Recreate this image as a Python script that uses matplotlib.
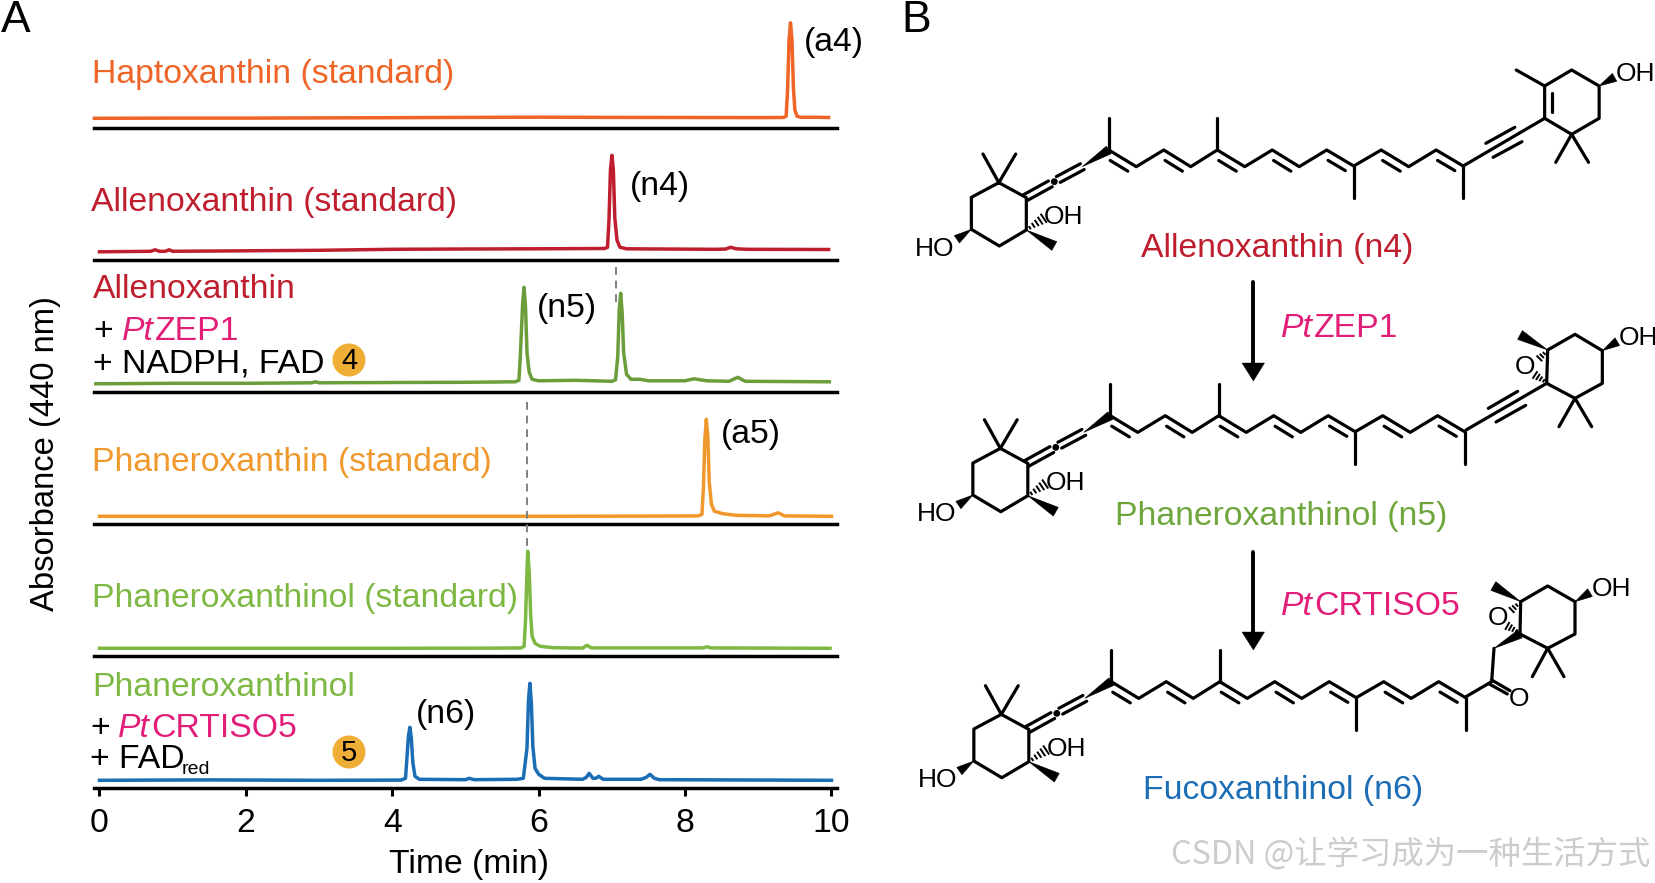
import matplotlib
matplotlib.use("Agg")
import matplotlib.pyplot as plt
from matplotlib.patches import Polygon, Circle

plt.rcParams['font.family'] = ['Liberation Sans', 'DejaVu Sans']

W, H = 1656, 883
# ---------- chromatogram data (time in min, signal in arbitrary units) ----------
t_a4 = [-0.07, 1, 2, 3, 4, 5, 6, 7, 8, 9, 9.34, 9.38, 9.40, 9.42, 9.44, 9.46, 9.48, 9.50, 9.53, 9.58, 9.80, 9.96]
y_a4 = [10.0, 10.2, 10.2, 10.4, 10.6, 10.9, 11.1, 10.9, 10.8, 10.7, 10.8, 12, 38, 88, 105.5, 88, 40, 18, 12, 11, 11, 10.8]
t_n4 = [0.0, 0.7, 0.76, 0.82, 0.9, 0.95, 1.0, 2, 3, 4, 5, 6, 6.90, 6.94, 6.96, 6.98, 7.0, 7.02, 7.04, 7.07, 7.11, 7.2, 8.4, 8.55, 8.62, 8.7, 8.85, 9.96]
y_n4 = [8.5, 9, 10.5, 9, 9, 10.5, 9, 9.5, 10, 11, 11.3, 11.5, 11.8, 13, 40, 90, 105, 90, 42, 20, 13, 11.5, 11, 11.2, 13, 11.5, 11, 10.8]
t_n5 = [-0.05, 1, 2, 2.9, 2.95, 3.0, 4, 5, 5.68, 5.73, 5.75, 5.78, 5.80, 5.82, 5.84, 5.87, 5.91, 6.0, 6.5, 7.0, 7.05, 7.08, 7.10, 7.12, 7.14, 7.16, 7.20, 7.26, 7.38, 7.50, 8.0, 8.12, 8.3, 8.6, 8.72, 8.82, 9.97]
y_n5 = [8.5, 9, 9, 9.5, 10.5, 9.5, 9.8, 10, 10.5, 12, 38, 88, 105, 85, 40, 20, 13, 11.5, 12, 11, 12.5, 36, 82, 99, 80, 40, 18, 13, 13, 11.5, 11.5, 13.5, 11.5, 11, 15, 11, 10.5]
t_a5 = [0.0, 2, 4, 6, 7.5, 8.18, 8.23, 8.25, 8.27, 8.29, 8.31, 8.33, 8.36, 8.40, 8.45, 8.52, 8.7, 9.15, 9.27, 9.36, 10.0]
y_a5 = [8, 8, 8, 8, 8.2, 8.4, 10, 36, 85, 105, 88, 42, 20, 13, 12, 10.5, 9, 8.4, 11.5, 8.4, 8]
t_n5s = [0.0, 2, 4, 5.5, 5.76, 5.80, 5.82, 5.84, 5.85, 5.87, 5.89, 5.91, 5.95, 6.02, 6.2, 6.6, 6.66, 6.72, 7.5, 8.25, 8.3, 8.35, 9.98]
y_n5s = [8, 8, 8, 8.2, 8.4, 10, 36, 85, 105, 85, 42, 20, 13, 10, 8.6, 8.2, 11, 8.4, 8.4, 8.4, 9.6, 8.4, 8]
t_n6 = [0.0, 1.5, 3, 4.12, 4.18, 4.20, 4.22, 4.24, 4.26, 4.28, 4.31, 4.37, 5.0, 5.05, 5.12, 5.7, 5.79, 5.84, 5.86, 5.88, 5.90, 5.92, 5.95, 6.0, 6.08, 6.6, 6.65, 6.69, 6.74, 6.78, 6.82, 6.88, 7.4, 7.47, 7.52, 7.58, 7.65, 8.5, 10.0]
y_n6 = [8, 8.4, 8, 8.2, 10, 30, 52, 61, 50, 26, 12, 9, 8.6, 10, 8.6, 9, 10, 40, 88, 105, 85, 42, 20, 14, 10, 9, 11, 15, 10, 10, 12, 9, 9, 11, 14, 10, 8.6, 8.4, 8]

traces = [(t_a4, y_a4, '#EE6527'), (t_n4, y_n4, '#BE1E2D'), (t_n5, y_n5, '#6B9E3A'),
          (t_a5, y_a5, '#F0982B'), (t_n5s, y_n5s, '#7DB843'), (t_n6, y_n6, '#1B6DB5')]
xticks = [0, 2, 4, 6, 8, 10]
tick_labels = ['0', '2', '4', '6', '8', '10']

ORANGE, RED, GREEN, AMBER, LIME, BLUE = '#EE6527', '#BE1E2D', '#6FA63C', '#F0982B', '#7DB843', '#1B6DB5'
MAG, BADGE = '#E21F78', '#EFAE35'
FS = 24.3

fig = plt.figure(figsize=(W / 100, H / 100), dpi=100, facecolor='white')

X0, PXMIN = 99.5, 73.2
TMIN, TMAX = -0.08, 10.07
bottoms = [128.3, 260.3, 392.3, 524.3, 656.3, 788.3]
for i, (b, (tt, yy, c)) in enumerate(zip(bottoms, traces)):
    left = X0 + TMIN * PXMIN
    width = (TMAX - TMIN) * PXMIN
    ax = fig.add_axes([left / W, (H - b) / H, width / W, 132 / H])
    ax.patch.set_alpha(0)
    ax.set_xlim(TMIN, TMAX)
    ax.set_ylim(0, 132)
    ax.plot(tt, yy, color=c, lw=2.5, solid_joinstyle='round', clip_on=False)
    for s in ('top', 'left', 'right'):
        ax.spines[s].set_visible(False)
    ax.spines['bottom'].set_linewidth(2.5)
    ax.set_yticks([])
    if i == 5:
        ax.set_xticks(xticks)
        ax.set_xticklabels(tick_labels, fontsize=FS)
        ax.tick_params(axis='x', length=6, width=2.2, pad=8)
        ax.set_xlabel('Time (min)', fontsize=FS)
        ax.xaxis.set_label_coords((469 - left) / width, -(849 - b) / 132)
    else:
        ax.set_xticks([])

# ---------- overlay in pixel coordinates ----------
ov = fig.add_axes([0, 0, 1, 1])
ov.set_xlim(0, W)
ov.set_ylim(H, 0)
ov.axis('off')
ov.patch.set_alpha(0)


def T(x, y, s, color='black', size=FS, ha='left', va='center', **kw):
    if va == 'center' and kw.get('rotation') is None:
        y = y + 2
    return ov.text(x, y, s, color=color, fontsize=size, ha=ha, va=va, **kw)


renderer = fig.canvas.get_renderer()


def pieces(x, y, parts):
    for s, c, st in parts:
        t = T(x, y, s, color=c, style=st, va='center_baseline')
        x = t.get_window_extent(renderer).x1 + 1


T(1, 19, 'A', size=32)
T(901, 19, 'B', size=32)
T(46, 454, 'Absorbance (440 nm)', rotation=90, ha='center', size=23.6)

T(92, 73, 'Haptoxanthin (standard)', ORANGE)
T(91, 200, 'Allenoxanthin (standard)', RED)
T(93, 287, 'Allenoxanthin', RED)
T(93, 328, '+', va='center_baseline')
pieces(122, 328, [('Pt', MAG, 'italic'), ('ZEP1', MAG, 'normal')])
T(93, 362, '+ NADPH, FAD')
T(92, 460, 'Phaneroxanthin (standard)', AMBER)
T(92, 597, 'Phaneroxanthinol (standard)', LIME)
T(92, 686, 'Phaneroxanthinol', LIME)
T(90, 725, '+', va='center_baseline')
pieces(118, 725, [('Pt', MAG, 'italic'), ('CRTISO5', MAG, 'normal')])
T(90, 758, '+ FAD')
T(182, 767, 'red', size=14)

for bx, by, s in [(349, 360, '4'), (349, 752, '5')]:
    ov.add_patch(Circle((bx, by), 16.5, fc=BADGE, ec='none'))
    ov.text(bx, by + 1, s, ha='center', va='center', fontsize=21, color='black')

for x, y, s in [(834, 40, '(a4)'), (660, 184, '(n4)'), (567, 306, '(n5)'), (751, 433, '(a5)'), (446, 712, '(n6)')]:
    T(x, y, s, ha='center')

ov.plot([616, 616], [267, 305], color='#808080', lw=1.4, ls=(0, (4, 3)))
ov.plot([527, 527], [402, 547], color='#808080', lw=1.4, ls=(0, (4, 3)))

# ---------- structures ----------
LW = 2.3
BS = 19


def z(x, y):
    return 900 + x / 2.074, 40 + y / 3


def bond(a, b, lw=LW):
    ov.plot([a[0], b[0]], [a[1], b[1]], color='black', lw=lw, solid_capstyle='round')


def path(pts):
    ov.plot([p[0] for p in pts], [p[1] for p in pts], color='black', lw=LW,
            solid_capstyle='round', solid_joinstyle='round')


def wedge(a, b, w=7):
    dx, dy = b[0] - a[0], b[1] - a[1]
    n = (dx * dx + dy * dy) ** 0.5
    nx, ny = -dy / n * w / 2, dx / n * w / 2
    ov.add_patch(Polygon([a, (b[0] + nx, b[1] + ny), (b[0] - nx, b[1] - ny)], fc='black', ec='black', lw=0.4))


def hashed(a, b, w=7, k=5):
    dx, dy = b[0] - a[0], b[1] - a[1]
    n = (dx * dx + dy * dy) ** 0.5
    nx, ny = -dy / n, dx / n
    for i in range(1, k + 1):
        f = i / k
        h = w / 2 * f
        px, py = a[0] + dx * f, a[1] + dy * f
        ov.plot([px - nx * h, px + nx * h], [py - ny * h, py + ny * h], color='black', lw=1.4)


def second(a, b, nx=-3.5, ny=7.5, s=0.18):
    p = (a[0] + (b[0] - a[0]) * s + nx, a[1] + (b[1] - a[1]) * s + ny)
    q = (a[0] + (b[0] - a[0]) * (1 - s) + nx, a[1] + (b[1] - a[1]) * (1 - s) + ny)
    bond(p, q)


ring_z = [(205, 428), (262, 473), (262, 570), (206, 618), (148, 568), (148, 472), (205, 428)]
gem_z = [(172, 342), (240, 342)]
chain_z = [(433, 330), (490, 380), (547, 330), (603, 380), (658, 330), (715, 380),
           (772, 330), (828, 380), (885, 330), (941, 378), (998, 330), (1055, 380),
           (1112, 330), (1168, 378)]
methyl_z = [((433, 330), (433, 235)), ((658, 330), (658, 235)), ((941, 378), (941, 475)), ((1168, 378), (1168, 475))]


def common(ox, oy):
    def q(x, y):
        a, b = z(x, y)
        return a + ox, b + oy
    path([q(*p) for p in ring_z])
    for g in gem_z:
        bond(q(205, 428), q(*g))
    # allene
    a, m, e = q(262, 473), q(320, 425), q(378, 380)
    for sgn in (1, -1):
        off = (1.9 * sgn, 2.9 * sgn)
        bond((a[0] + off[0] - 1, a[1] + off[1]), (m[0] + off[0] - 4, m[1] + off[1] + 2.2))
        bond((m[0] + off[0] + 4, m[1] + off[1] - 2.2), (e[0] + off[0], e[1] + off[1]))
    ov.add_patch(Circle(m, 3.4, fc='black', ec='none'))
    wedge(q(378, 380), q(433, 330), w=9)
    pts = [q(*p) for p in chain_z]
    path(pts)
    for i in range(0, len(pts) - 1, 2):
        second(pts[i], pts[i + 1])
    for a, b in methyl_z:
        bond(q(*a), q(*b))
    wedge(q(148, 568), q(118, 598), w=9)
    T(*q(72, 620), 'HO', size=BS, ha='center')
    hashed(q(262, 570), q(298, 535), w=9)
    T(*q(340, 525), 'OH', size=BS, ha='center')
    wedge(q(262, 570), q(320, 618), w=10)
    return pts[-1]


# molecule 1
common(0, 0)
e1 = z(1168, 378)
path([e1, z(1337, 235)])
bond(z(1215, 310), z(1275, 262))
bond(z(1230, 352), z(1290, 305))
path([z(*p) for p in [(1337, 235), (1337, 138), (1393, 90), (1450, 138), (1450, 235), (1393, 283), (1337, 235)]])
bond(z(1352, 215), z(1352, 158))
bond(z(1337, 138), z(1278, 90))
bond(z(1393, 283), z(1360, 367))
bond(z(1393, 283), z(1428, 367))
wedge(z(1450, 138), z(1482, 112), w=9)
T(*z(1525, 97), 'OH', size=BS, ha='center')


# molecule 2
def z6(x, y):
    return 1400 + x / 3, 300 + y / 3


common(1.5, 265.7)
path([z6(198, 390), z6(440, 250)])
bond(z6(265, 325), z6(353, 274))
bond(z6(288, 366), z6(377, 316))
path([z6(*p) for p in [(440, 250), (443, 150), (525, 103), (607, 152), (607, 250), (525, 295), (440, 250)]])
wedge(z6(443, 150), z6(360, 105), w=10)
bond(z6(525, 295), z6(477, 380))
bond(z6(525, 295), z6(575, 380))
wedge(z6(607, 152), z6(652, 125), w=9)
T(*z6(715, 108), 'OH', size=BS, ha='center')
T(*z6(375, 195), 'O', size=BS, ha='center')
hashed(z6(440, 153), z6(418, 175), w=6, k=3)
hashed(z6(440, 248), z6(405, 225), w=7, k=4)


# molecule 3
def z7(x, y):
    return 1400 + x / 3, 560 + y / 3


common(2.5, 531.7)
path([z7(198, 410), z7(275, 365), z7(282, 265)])
bond(z7(275, 360), z7(330, 392))
bond(z7(268, 372), z7(322, 402))
T(*z7(358, 410), 'O', size=BS, ha='center')
wedge(z7(282, 265), z7(360, 222), w=9)
path([z7(*p) for p in [(360, 222), (362, 125), (443, 78), (525, 125), (525, 222), (443, 265), (360, 222)]])
wedge(z7(362, 125), z7(280, 78), w=10)
bond(z7(443, 265), z7(397, 350))
bond(z7(443, 265), z7(492, 350))
wedge(z7(525, 125), z7(570, 98), w=9)
T(*z7(635, 82), 'OH', size=BS, ha='center')
T(*z7(293, 168), 'O', size=BS, ha='center')
hashed(z7(358, 128), z7(335, 150), w=6, k=3)
hashed(z7(358, 218), z7(322, 198), w=7, k=4)

# labels and arrows
T(1277, 246, 'Allenoxanthin (n4)', RED, ha='center')
T(1281, 515, 'Phaneroxanthinol (n5)', GREEN, ha='center')
T(1283, 788, 'Fucoxanthinol (n6)', BLUE, ha='center')
pieces(1281, 325, [('Pt', MAG, 'italic'), ('ZEP1', MAG, 'normal')])
pieces(1281, 603, [('Pt', MAG, 'italic'), ('CRTISO5', MAG, 'normal')])
for y0, y1 in [(282, 381), (552, 650)]:
    bond((1253.4, y0), (1253.4, y1 - 15), lw=2.8)
    ov.add_patch(Polygon([(1242, y1 - 18), (1264.5, y1 - 18), (1253.4, y1)], fc='black', ec='black', lw=0.3))

ov.text(1171, 855, 'CSDN @让学习成为一种生活方式', color='#CCCCCC', fontsize=23.3, ha='left', va='center',
        family=['Noto Sans CJK SC', 'DejaVu Sans'])

fig.savefig('out.png', dpi=100, facecolor='white')
